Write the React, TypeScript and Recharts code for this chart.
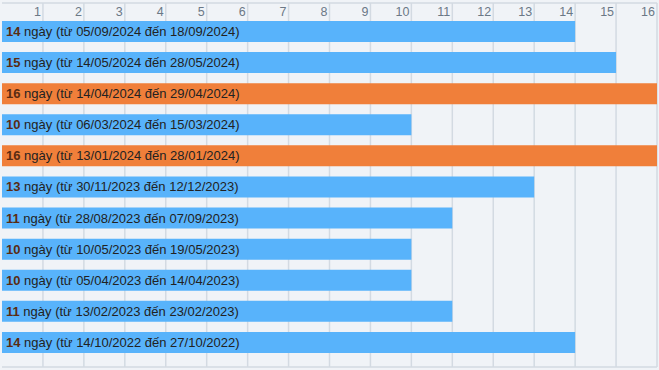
import { BarChart, Bar, XAxis, YAxis, CartesianGrid, Cell, LabelList } from 'recharts'

const days = [14, 15, 16, 10, 16, 13, 11, 10, 10, 11, 14]
const starts = ['05/09/2024', '14/05/2024', '14/04/2024', '06/03/2024', '13/01/2024', '30/11/2023', '28/08/2023', '10/05/2023', '05/04/2023', '13/02/2023', '14/10/2022']
const ends = ['18/09/2024', '28/05/2024', '29/04/2024', '15/03/2024', '28/01/2024', '12/12/2023', '07/09/2023', '19/05/2023', '14/04/2023', '23/02/2023', '27/10/2022']
const xTicks = [1, 2, 3, 4, 5, 6, 7, 8, 9, 10, 11, 12, 13, 14, 15, 16]

const maxDays = Math.max(...days)

const data = days.map((d, i) => ({
  key: `r${i}`,
  days: d,
  start: starts[i],
  end: ends[i],
  color: d === maxDays ? '#f07f3a' : '#58b3fb',
}))

const TopTick = (props: any) => {
  const { x, payload } = props
  return (
    <text x={x - 2} y={16} textAnchor="end" fontSize={12.5} fill="#6b7886" fontFamily="Liberation Sans, Arial, sans-serif">
      {payload.value}
    </text>
  )
}

const BarLabel = (props: any) => {
  const { x, y, height, index } = props
  const row = data[index]
  return (
    <text x={x + 4} y={y + height / 2 + 4.5} fontSize={13} fill="#222" fontFamily="Liberation Sans, Arial, sans-serif">
      <tspan fontWeight="bold" fill="#5a2b12">{row.days}</tspan>
      <tspan>{` ngày (từ ${row.start} đến ${row.end})`}</tspan>
    </text>
  )
}

export default function App() {
  return (
    <div style={{ position: 'absolute', left: 0, top: 0, width: 659, height: 370, background: '#f0f3f7' }}>
      <BarChart
        width={659}
        height={370}
        data={data}
        layout="vertical"
        margin={{ top: 3, right: 2, left: 2, bottom: 2 }}
        barSize={21}
      >
        <CartesianGrid horizontal={false} stroke="#d3dae2" strokeWidth={1.5} verticalValues={xTicks} />
        <XAxis
          type="number"
          orientation="top"
          domain={[0, 16]}
          ticks={xTicks}
          height={1}
          mirror
          axisLine={{ stroke: '#d3dae2', strokeWidth: 1.5 }}
          tickLine={false}
          tick={TopTick}
          interval={0}
        />
        <XAxis
          xAxisId="bottom"
          type="number"
          orientation="bottom"
          domain={[0, 16]}
          height={1}
          axisLine={{ stroke: '#d3dae2', strokeWidth: 1.5 }}
          tickLine={false}
          tick={false}
        />
        <YAxis type="category" dataKey="key" hide padding={{ top: 13, bottom: 9 }} />
        <Bar dataKey="days" isAnimationActive={false}>
          {data.map((entry) => (
            <Cell key={entry.key} fill={entry.color} />
          ))}
          <LabelList dataKey="days" content={<BarLabel />} />
        </Bar>
      </BarChart>
    </div>
  )
}
